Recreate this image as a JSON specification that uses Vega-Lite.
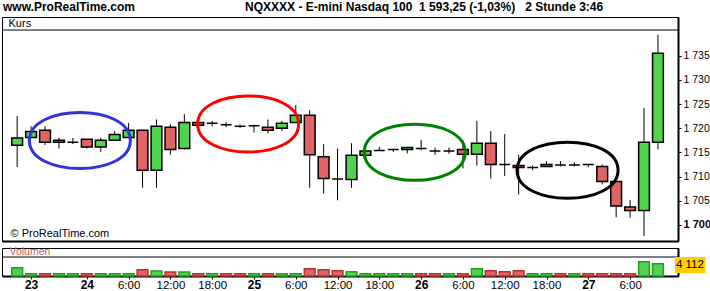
{
  "$schema": "https://vega.github.io/schema/vega-lite/v6.json",
  "padding": {"left": 1, "top": 0, "right": 0, "bottom": 0},
  "background": "white",
  "title": {
    "text": "www.ProRealTime.com\u00a0\u00a0\u00a0\u00a0\u00a0\u00a0\u00a0\u00a0\u00a0\u00a0\u00a0\u00a0\u00a0\u00a0\u00a0\u00a0\u00a0\u00a0\u00a0\u00a0\u00a0\u00a0\u00a0\u00a0\u00a0\u00a0\u00a0\u00a0\u00a0\u00a0\u00a0\u00a0\u00a0NQXXXX - E-mini Nasdaq 100\u00a0\u00a01 593,25 (-1,03%)\u00a0\u00a0\u00a02 Stunde\u00a03:46",
    "anchor": "start",
    "font": "Liberation Sans",
    "fontSize": 12,
    "fontWeight": "bold",
    "color": "#000",
    "offset": 3,
    "dx": 2
  },
  "config": {
    "locale": {"number": {"decimal": ",", "thousands": " ", "grouping": [3], "currency": ["", ""]}},
    "view": {"stroke": "#000", "strokeWidth": 1},
    "axis": {"grid": false},
    "font": "Liberation Sans"
  },
  "resolve": {"scale": {"stroke": "independent", "fill": "independent", "color": "independent"}},
  "datasets": {
    "k": [
      {"i":0,"o":1716.5,"h":1722.5,"l":1712.0,"c":1718.0,"v":2790,"vd":"up"},
      {"i":1,"o":1718.1,"h":1720.4,"l":1718.0,"c":1719.3,"v":770,"vd":"up"},
      {"i":2,"o":1719.6,"h":1720.4,"l":1716.5,"c":1717.1,"v":760,"vd":"down"},
      {"i":3,"o":1717.5,"h":1718.0,"l":1715.8,"c":1717.1,"v":780,"vd":"up"},
      {"i":4,"o":1717.1,"h":1718.0,"l":1716.7,"c":1717.1,"v":770,"vd":"up"},
      {"i":5,"o":1717.7,"h":1717.7,"l":1715.8,"c":1716.1,"v":760,"vd":"down"},
      {"i":6,"o":1716.1,"h":1718.0,"l":1715.1,"c":1717.5,"v":770,"vd":"up"},
      {"i":7,"o":1717.5,"h":1719.4,"l":1717.5,"c":1718.7,"v":780,"vd":"up"},
      {"i":8,"o":1718.1,"h":1721.1,"l":1718.1,"c":1719.6,"v":770,"vd":"up"},
      {"i":9,"o":1719.6,"h":1719.6,"l":1707.7,"c":1711.3,"v":2115,"vd":"down"},
      {"i":10,"o":1711.3,"h":1721.8,"l":1707.7,"c":1720.4,"v":1680,"vd":"up"},
      {"i":11,"o":1720.2,"h":1720.8,"l":1714.5,"c":1715.6,"v":1340,"vd":"down"},
      {"i":12,"o":1715.8,"h":1722.9,"l":1715.6,"c":1721.2,"v":1340,"vd":"up"},
      {"i":13,"o":1721.2,"h":1721.4,"l":1720.5,"c":1720.6,"v":770,"vd":"down"},
      {"i":14,"o":1721.0,"h":1721.5,"l":1720.4,"c":1721.0,"v":760,"vd":"up"},
      {"i":15,"o":1720.7,"h":1721.3,"l":1720.2,"c":1720.7,"v":770,"vd":"down"},
      {"i":16,"o":1720.4,"h":1720.8,"l":1720.0,"c":1720.4,"v":780,"vd":"down"},
      {"i":17,"o":1720.5,"h":1720.7,"l":1719.1,"c":1720.5,"v":770,"vd":"up"},
      {"i":18,"o":1720.2,"h":1721.8,"l":1718.9,"c":1719.6,"v":760,"vd":"down"},
      {"i":19,"o":1720.0,"h":1721.5,"l":1719.4,"c":1721.0,"v":770,"vd":"up"},
      {"i":20,"o":1721.2,"h":1724.8,"l":1721.2,"c":1722.7,"v":780,"vd":"up"},
      {"i":21,"o":1722.7,"h":1723.7,"l":1707.7,"c":1714.5,"v":2450,"vd":"down"},
      {"i":22,"o":1714.1,"h":1716.7,"l":1706.5,"c":1709.6,"v":2115,"vd":"down"},
      {"i":23,"o":1709.5,"h":1715.8,"l":1705.1,"c":1709.5,"v":1780,"vd":"down"},
      {"i":24,"o":1709.4,"h":1716.9,"l":1707.7,"c":1714.4,"v":1445,"vd":"up"},
      {"i":25,"o":1714.4,"h":1715.4,"l":1714.3,"c":1715.3,"v":770,"vd":"up"},
      {"i":26,"o":1715.4,"h":1716.1,"l":1715.3,"c":1715.4,"v":760,"vd":"up"},
      {"i":27,"o":1715.6,"h":1715.7,"l":1715.1,"c":1715.6,"v":770,"vd":"up"},
      {"i":28,"o":1715.6,"h":1716.1,"l":1714.8,"c":1716.0,"v":780,"vd":"up"},
      {"i":29,"o":1715.8,"h":1717.6,"l":1715.4,"c":1715.8,"v":770,"vd":"down"},
      {"i":30,"o":1715.3,"h":1716.0,"l":1714.5,"c":1715.3,"v":760,"vd":"down"},
      {"i":31,"o":1715.3,"h":1716.0,"l":1714.7,"c":1715.3,"v":770,"vd":"up"},
      {"i":32,"o":1715.6,"h":1717.5,"l":1711.7,"c":1714.6,"v":780,"vd":"down"},
      {"i":33,"o":1714.6,"h":1721.5,"l":1712.3,"c":1716.9,"v":2450,"vd":"up"},
      {"i":34,"o":1716.9,"h":1719.4,"l":1709.6,"c":1712.5,"v":1780,"vd":"down"},
      {"i":35,"o":1712.5,"h":1718.8,"l":1710.1,"c":1712.5,"v":1445,"vd":"down"},
      {"i":36,"o":1712.3,"h":1714.5,"l":1706.3,"c":1711.9,"v":1780,"vd":"down"},
      {"i":37,"o":1711.9,"h":1712.3,"l":1711.3,"c":1711.9,"v":770,"vd":"up"},
      {"i":38,"o":1712.1,"h":1713.2,"l":1712.1,"c":1712.5,"v":760,"vd":"up"},
      {"i":39,"o":1712.4,"h":1713.2,"l":1712.1,"c":1712.4,"v":770,"vd":"down"},
      {"i":40,"o":1712.4,"h":1713.0,"l":1712.1,"c":1712.4,"v":780,"vd":"up"},
      {"i":41,"o":1712.5,"h":1712.5,"l":1712.0,"c":1712.5,"v":770,"vd":"down"},
      {"i":42,"o":1712.1,"h":1712.5,"l":1708.4,"c":1709.0,"v":760,"vd":"down"},
      {"i":43,"o":1709.0,"h":1709.0,"l":1701.6,"c":1703.9,"v":770,"vd":"down"},
      {"i":44,"o":1703.7,"h":1705.2,"l":1701.5,"c":1703.0,"v":780,"vd":"down"},
      {"i":45,"o":1703.0,"h":1724.2,"l":1697.7,"c":1717.1,"v":4800,"vd":"up"},
      {"i":46,"o":1717.1,"h":1739.3,"l":1715.6,"c":1735.5,"v":4112,"vd":"up"}
    ],
    "rings": [
      {"ring": "blue", "ci": 4.5, "cp": 1717.46},
      {"ring": "red", "ci": 16.58, "cp": 1720.87},
      {"ring": "green", "ci": 28.54, "cp": 1715.02},
      {"ring": "black", "ci": 39.51, "cp": 1711.32}
    ]
  },
  "spacing": 4,
  "vconcat": [
    {
      "width": 676,
      "height": 224,
      "layer": [
        {
          "data": {"name": "k"},
          "mark": {"type": "rule", "color": "#000", "strokeWidth": 1},
          "encoding": {
            "x": {"field": "i", "type": "quantitative", "scale": {"domain": [-0.73, 47.08], "nice": false, "zero": false},
              "axis": {"orient": "bottom", "labels": false, "ticks": false, "domain": true, "domainWidth": 2, "domainColor": "#000", "title": null, "grid": false}},
            "y": {"field": "l", "type": "quantitative", "scale": {"domain": [1696.69, 1742.98], "nice": false, "zero": false},
              "axis": {"orient": "right", "values": [1700, 1705, 1710, 1715, 1720, 1725, 1730, 1735], "format": ",d", "domainWidth": 2, "domainColor": "#000", "tickColor": "#000", "tickSize": 3, "labelPadding": 2, "labelFont": "Liberation Sans", "labelFontSize": {"condition": {"test": "datum.value == 1700", "value": 11}, "value": 10.5}, "labelFontWeight": {"condition": {"test": "datum.value == 1700", "value": "bold"}, "value": "normal"}, "labelColor": "#000", "labelOverlap": false, "labelBound": false, "title": null, "grid": false}},
            "y2": {"field": "h"}
          }
        },
        {
          "data": {"name": "k"},
          "mark": {"type": "bar", "size": 10.8, "stroke": "#000", "strokeWidth": 1.5},
          "encoding": {
            "x": {"field": "i", "type": "quantitative",
              "axis": {"orient": "bottom", "labels": false, "ticks": false, "domain": true, "domainWidth": 2, "domainColor": "#000", "title": null, "grid": false}},
            "y": {"field": "o", "type": "quantitative",
              "axis": {"orient": "right", "values": [1700, 1705, 1710, 1715, 1720, 1725, 1730, 1735], "format": ",d", "domainWidth": 2, "domainColor": "#000", "tickColor": "#000", "tickSize": 3, "labelPadding": 2, "labelFont": "Liberation Sans", "labelFontSize": {"condition": {"test": "datum.value == 1700", "value": 11}, "value": 10.5}, "labelFontWeight": {"condition": {"test": "datum.value == 1700", "value": "bold"}, "value": "normal"}, "labelColor": "#000", "labelOverlap": false, "labelBound": false, "title": null, "grid": false}},
            "y2": {"field": "c"},
            "fill": {"condition": {"test": "datum.c > datum.o", "value": "#50D450"}, "value": "#E06464"}
          }
        },
        {
          "data": {"name": "rings"},
          "mark": {"type": "point", "shape": "M-1,0C-1,-0.74 1,-0.74 1,0C1,0.74 -1,0.74 -1,0Z", "size": 10201, "filled": false, "strokeWidth": 3, "opacity": 1},
          "encoding": {
            "x": {"field": "ci", "type": "quantitative",
              "axis": {"orient": "bottom", "labels": false, "ticks": false, "domain": true, "domainWidth": 2, "domainColor": "#000", "title": null, "grid": false}},
            "y": {"field": "cp", "type": "quantitative",
              "axis": {"orient": "right", "values": [1700, 1705, 1710, 1715, 1720, 1725, 1730, 1735], "format": ",d", "domainWidth": 2, "domainColor": "#000", "tickColor": "#000", "tickSize": 3, "labelPadding": 2, "labelFont": "Liberation Sans", "labelFontSize": {"condition": {"test": "datum.value == 1700", "value": 11}, "value": 10.5}, "labelFontWeight": {"condition": {"test": "datum.value == 1700", "value": "bold"}, "value": "normal"}, "labelColor": "#000", "labelOverlap": false, "labelBound": false, "title": null, "grid": false}},
            "stroke": {"field": "ring", "type": "nominal", "scale": {"domain": ["blue", "red", "green", "black"], "range": ["#3333DD", "#FF0000", "#008000", "#000000"]}, "legend": null}
          }
        },
        {
          "data": {"values": [{"p": 1740.29}]},
          "mark": {"type": "rule", "color": "#000", "strokeWidth": 1},
          "encoding": {
            "y": {"field": "p", "type": "quantitative",
              "axis": {"orient": "right", "values": [1700, 1705, 1710, 1715, 1720, 1725, 1730, 1735], "format": ",d", "domainWidth": 2, "domainColor": "#000", "tickColor": "#000", "tickSize": 3, "labelPadding": 2, "labelFont": "Liberation Sans", "labelFontSize": {"condition": {"test": "datum.value == 1700", "value": 11}, "value": 10.5}, "labelFontWeight": {"condition": {"test": "datum.value == 1700", "value": "bold"}, "value": "normal"}, "labelColor": "#000", "labelOverlap": false, "labelBound": false, "title": null, "grid": false}}
          }
        },
        {
          "data": {"values": [{"t": "Kurs", "a": -0.62, "p": 1741.63}, {"t": "© ProRealTime.com", "a": -0.48, "p": 1698.14}]},
          "mark": {"type": "text", "align": "left", "baseline": "middle", "font": "Liberation Sans", "fontSize": 11, "color": "#000"},
          "encoding": {
            "x": {"field": "a", "type": "quantitative",
              "axis": {"orient": "bottom", "labels": false, "ticks": false, "domain": true, "domainWidth": 2, "domainColor": "#000", "title": null, "grid": false}},
            "y": {"field": "p", "type": "quantitative",
              "axis": {"orient": "right", "values": [1700, 1705, 1710, 1715, 1720, 1725, 1730, 1735], "format": ",d", "domainWidth": 2, "domainColor": "#000", "tickColor": "#000", "tickSize": 3, "labelPadding": 2, "labelFont": "Liberation Sans", "labelFontSize": {"condition": {"test": "datum.value == 1700", "value": 11}, "value": 10.5}, "labelFontWeight": {"condition": {"test": "datum.value == 1700", "value": "bold"}, "value": "normal"}, "labelColor": "#000", "labelOverlap": false, "labelBound": false, "title": null, "grid": false}},
            "text": {"field": "t"}
          }
        }
      ]
    },
    {
      "width": 676,
      "height": 28,
      "layer": [
        {
          "data": {"name": "k"},
          "mark": {"type": "bar", "size": 10.8, "strokeWidth": 1.5},
          "encoding": {
            "x": {
              "field": "i", "type": "quantitative",
              "scale": {"domain": [-0.73, 47.08], "nice": false, "zero": false},
              "axis": {
                "orient": "bottom",
                "values": [1, 5, 8, 11, 14, 17, 20, 23, 26, 29, 32, 35, 38, 41, 44],
                "labelExpr": "datum.value == 1 ? '23' : datum.value == 5 ? '24' : datum.value == 17 ? '25' : datum.value == 29 ? '26' : datum.value == 41 ? '27' : (datum.value - 5) % 12 == 3 ? '6:00' : (datum.value - 5) % 12 == 6 ? '12:00' : '18:00'",
                "domainWidth": 2, "domainColor": "#000",
                "tickColor": "#000", "tickSize": 3, "labelPadding": 0,
                "labelFont": "Liberation Sans",
                "labelFontSize": {"condition": {"test": "indexof([1, 5, 17, 29, 41], datum.value) >= 0", "value": 12}, "value": 11.5},
                "labelFontWeight": {"condition": {"test": "indexof([1, 5, 17, 29, 41], datum.value) >= 0", "value": "bold"}, "value": "normal"},
                "labelColor": "#000", "labelOverlap": false, "labelFlush": false, "labelBound": false,
                "title": null, "grid": false
              }
            },
            "y": {
              "field": "v", "type": "quantitative",
              "scale": {"domain": [0, 9400], "nice": false},
              "axis": {"orient": "right", "labels": false, "ticks": false, "domainWidth": 2, "domainColor": "#000", "title": null, "grid": false}
            },
            "fill": {"field": "vd", "type": "nominal", "scale": {"domain": ["up", "down"], "range": ["#50D450", "#E06464"]}, "legend": null},
            "stroke": {"field": "vd", "type": "nominal", "scale": {"domain": ["up", "down"], "range": ["#1F9F1F", "#B83232"]}, "legend": null}
          }
        },
        {
          "data": {"values": [{"v": 6378}]},
          "mark": {"type": "rule", "color": "#000", "strokeWidth": 1},
          "encoding": {
            "y": {"field": "v", "type": "quantitative",
              "axis": {"orient": "right", "labels": false, "ticks": false, "domainWidth": 2, "domainColor": "#000", "title": null, "grid": false}}
          }
        },
        {
          "data": {"values": [{"t": "Volumen", "a": -0.55, "v": 7890}]},
          "mark": {"type": "text", "align": "left", "baseline": "middle", "font": "Liberation Sans", "fontSize": 10.5, "color": "#D95757"},
          "encoding": {
            "x": {"field": "a", "type": "quantitative"},
            "y": {"field": "v", "type": "quantitative",
              "axis": {"orient": "right", "labels": false, "ticks": false, "domainWidth": 2, "domainColor": "#000", "title": null, "grid": false}},
            "text": {"field": "t"}
          }
        },
        {
          "data": {"values": [{"a": 47.22, "b": 49.41, "v": 1007, "w": 6378}]},
          "mark": {"type": "rect", "fill": "#FFCC00"},
          "encoding": {
            "x": {"field": "a", "type": "quantitative"},
            "x2": {"field": "b"},
            "y": {"field": "v", "type": "quantitative",
              "axis": {"orient": "right", "labels": false, "ticks": false, "domainWidth": 2, "domainColor": "#000", "title": null, "grid": false}},
            "y2": {"field": "w"}
          }
        },
        {
          "data": {"name": "k"},
          "transform": [{"filter": "datum.i == 46"}],
          "mark": {"type": "text", "align": "left", "baseline": "middle", "font": "Liberation Sans", "fontSize": 11.5, "color": "#000", "dx": 18},
          "encoding": {
            "x": {"field": "i", "type": "quantitative"},
            "y": {"datum": 3693},
            "text": {"field": "v", "type": "quantitative", "format": ",d"}
          }
        }
      ]
    }
  ]
}
